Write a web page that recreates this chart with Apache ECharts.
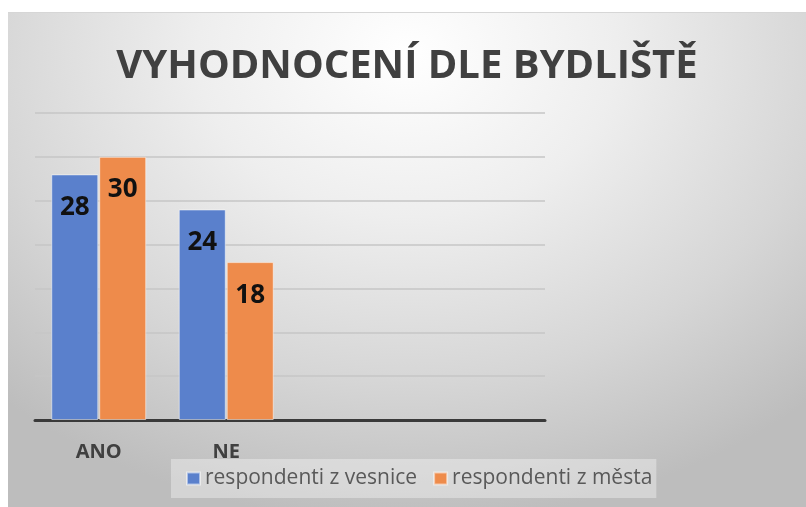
<!DOCTYPE html>
<html>
<head>
<meta charset="utf-8">
<script src="https://cdn.jsdelivr.net/npm/echarts@6/dist/echarts.min.js"></script>
<style>
  html, body { margin: 0; padding: 0; background: #fff; }
  #chart {
    position: absolute; left: 8px; top: 12px; width: 798px; height: 495px;
    border-top: 1px solid #d6d6d6;
    background: radial-gradient(ellipse 75% 95% at 50% 8%, #ffffff 0%, #eeeeee 35%, #d6d6d6 70%, #bdbdbd 100%);
  }
</style>
</head>
<body>
<div id="chart"></div>
<script>
const categories = ['ANO', 'NE', '', ''];
const vesnice = [28, 24];
const mesta = [30, 18];
const seriesNames = ['respondenti z vesnice', 'respondenti z města'];

const font = '"Open Sans", "Noto Sans", sans-serif';

const barLabel = {
  show: true,
  position: 'insideTop',
  distance: 20,
  fontSize: 26,
  fontWeight: 'bold',
  fontFamily: font,
  color: '#111'
};

let myChart = echarts.init(document.getElementById('chart'), null, {renderer: 'canvas'});
myChart.setOption({
  backgroundColor: 'transparent',
  animation: false,
  title: {
    text: 'VYHODNOCENÍ DLE BYDLIŠTĚ',
    left: 'center',
    top: 29,
    textStyle: {fontSize: 40, fontWeight: 'bold', fontFamily: font, color: '#404040'}
  },
  legend: {
    left: 163,
    top: 446,
    data: seriesNames,
    backgroundColor: 'rgba(255,255,255,0.35)',
    padding: [9, 4, 9, 15],
    itemWidth: 13,
    itemHeight: 12,
    itemGap: 16,
    icon: 'rect',
    textStyle: {fontSize: 21, fontFamily: font, color: '#595959'}
  },
  grid: {left: 27, right: 261, top: 100, bottom: 88},
  xAxis: {
    type: 'category',
    data: categories,
    axisLine: {lineStyle: {color: '#3a3a3a', width: 3}},
    axisTick: {show: false},
    axisLabel: {margin: 22, fontSize: 20, fontWeight: 'bold', fontFamily: font, color: '#404040'}
  },
  yAxis: {
    type: 'value',
    min: 0,
    max: 35,
    interval: 5,
    axisLine: {show: false},
    axisTick: {show: false},
    axisLabel: {show: false},
    splitLine: {lineStyle: {color: '#c6c6c6', width: 1.5}}
  },
  series: [
    {
      name: seriesNames[0], type: 'bar', data: vesnice,
      barWidth: 47, barGap: '2%',
      itemStyle: {color: '#5a80cc', borderColor: 'rgba(255,255,255,0.5)', borderWidth: 1},
      label: barLabel
    },
    {
      name: seriesNames[1], type: 'bar', data: mesta,
      barWidth: 47,
      itemStyle: {color: '#ee8b4b', borderColor: 'rgba(255,255,255,0.5)', borderWidth: 1},
      label: barLabel
    }
  ]
});
window.addEventListener('resize', () => {
  myChart.resize();
});
</script>
</body>
</html>
